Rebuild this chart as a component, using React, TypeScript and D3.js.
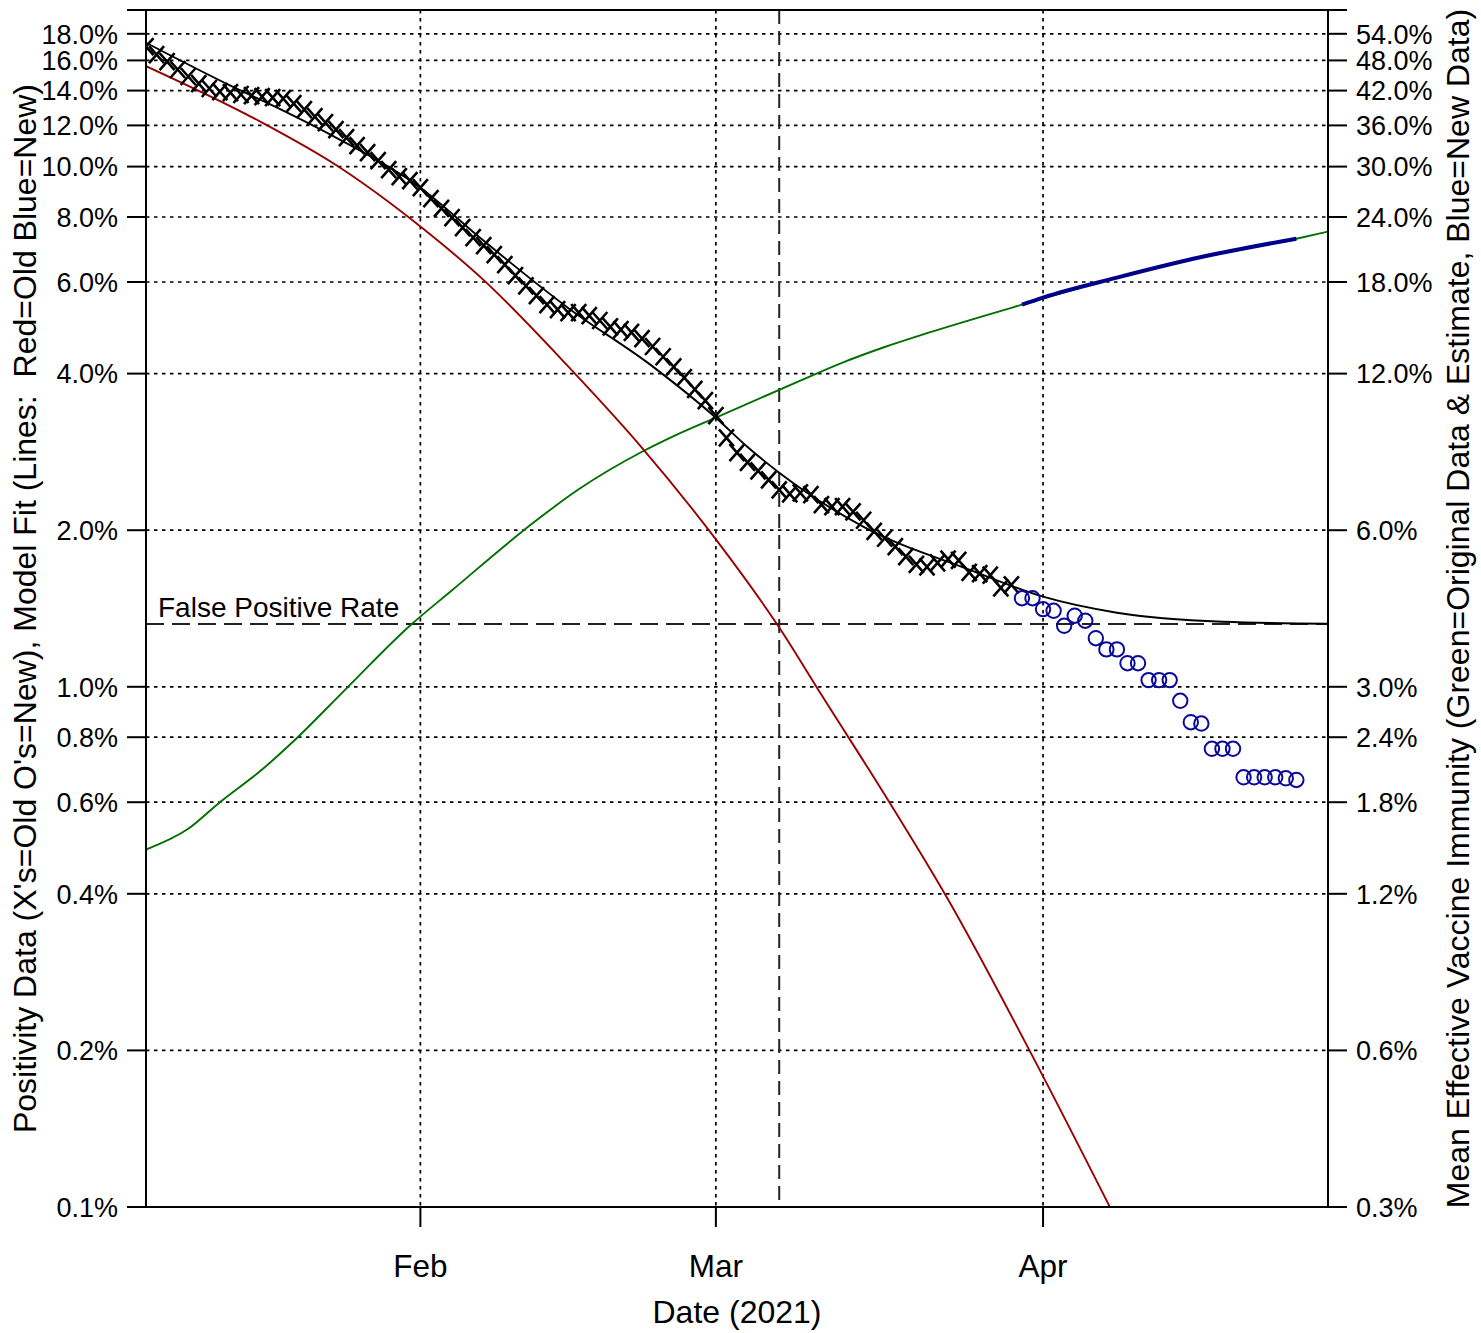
import React from 'react';
import * as d3 from 'd3';

const W = 1481;
const H = 1333;
const PLOT = { left: 146, right: 1328, top: 10, bottom: 1207 };

// ---- axes / ticks ----
const xDomain = ['2021-01-06', '2021-04-28'];
const monthTicks = ['2021-02-01', '2021-03-01', '2021-04-01'];
const monthLabels = ['Feb', 'Mar', 'Apr'];
const leftDomain = [0.1, 20];
const rightDomain = [0.3, 60];
const leftTicks = [0.1, 0.2, 0.4, 0.6, 0.8, 1, 2, 4, 6, 8, 10, 12, 14, 16, 18];
const rightTicks = [0.3, 0.6, 1.2, 1.8, 2.4, 3, 6, 12, 18, 24, 30, 36, 42, 48, 54];

// ---- positivity data (%) ----
const oldDataStart = '2021-01-06';
const oldPositivity = [
  17.01, 16.42, 15.92, 15.37, 14.9, 14.44, 14.13, 13.94, 13.88, 13.76, 13.69, 13.63, 13.57,
  13.51, 13.22, 12.87, 12.48, 12.15, 11.78, 11.37, 10.97, 10.64, 10.27, 9.87, 9.57, 9.4,
  9.11, 8.68, 8.31, 7.98, 7.63, 7.3, 7.05, 6.77, 6.48, 6.17, 5.9, 5.65, 5.43, 5.31, 5.24,
  5.24, 5.17, 5.06, 4.92, 4.86, 4.8, 4.67, 4.51, 4.31, 4.12, 3.93, 3.73, 3.55,
  3.32, 3.01, 2.82, 2.7, 2.6, 2.5, 2.39, 2.35, 2.36, 2.34, 2.24, 2.22, 2.22, 2.17, 2.09,
  1.99, 1.93, 1.86, 1.78, 1.72, 1.7, 1.73, 1.76, 1.75, 1.66, 1.65, 1.64, 1.55, 1.57,
];
const newDataStart = '2021-03-30';
const newPositivity = [
  1.48, 1.48, 1.41, 1.4, 1.31, 1.37, 1.34, 1.24, 1.18, 1.18, 1.11, 1.11, 1.03, 1.03, 1.03,
  0.94, 0.855, 0.85, 0.76, 0.76, 0.76, 0.67, 0.67, 0.67, 0.67, 0.667, 0.662,
];

// ---- model fits (%) ----
const newFitDates = [
  '2021-01-06', '2021-01-14', '2021-01-19', '2021-01-24', '2021-02-01', '2021-02-07',
  '2021-02-15', '2021-02-23', '2021-03-01', '2021-03-04', '2021-03-07', '2021-03-15',
  '2021-03-25', '2021-04-01', '2021-04-08', '2021-04-18', '2021-04-28',
];
const newFitValues = [
  17.3, 14.31, 12.81, 11.37, 9.11, 7.2, 5.35, 4.13, 3.29, 2.89, 2.58, 2.03, 1.68, 1.49,
  1.388, 1.334, 1.322,
];
const oldFitDates = [
  '2021-01-06', '2021-01-17', '2021-01-24', '2021-02-01', '2021-02-07', '2021-02-15',
  '2021-02-22', '2021-03-01', '2021-03-07', '2021-03-11', '2021-03-17', '2021-03-23',
  '2021-03-31', '2021-04-08',
];
const oldFitValues = [15.6, 12.15, 10.07, 7.67, 6.05, 4.13, 2.88, 1.92, 1.3, 0.965, 0.62, 0.39, 0.195, 0.094];

// ---- vaccine immunity (%; right axis) ----
const immunityDates = [
  '2021-01-06', '2021-01-10', '2021-01-13', '2021-01-17', '2021-01-20', '2021-01-25',
  '2021-01-31', '2021-02-04', '2021-02-12', '2021-02-16', '2021-02-22', '2021-02-25',
  '2021-03-01', '2021-03-09', '2021-03-13', '2021-03-17', '2021-03-21', '2021-03-30',
  '2021-04-08', '2021-04-16', '2021-04-25', '2021-04-28',
];
const immunityValues = [
  1.46, 1.6, 1.8, 2.08, 2.36, 2.98, 3.93, 4.6, 6.27, 7.19, 8.49, 9.1, 9.88, 11.63, 12.6,
  13.5, 14.35, 16.28, 18.35, 20.1, 21.8, 22.5,
];
const newImmunityDates = ['2021-03-30', '2021-04-01', '2021-04-08', '2021-04-16', '2021-04-25'];
const newImmunityValues = [16.28, 16.8, 18.35, 20.1, 21.8];

const falsePositiveRate = 1.32;
const markerDate = '2021-03-07';

const FONT = '"Liberation Sans", Arial, Helvetica, sans-serif';

export default function App() {
  const parse = d3.utcParse('%Y-%m-%d');
  const x = d3
    .scaleUtc()
    .domain(xDomain.map((s) => parse(s) as Date))
    .range([PLOT.left, PLOT.right]);
  const yL = d3.scaleLog().domain(leftDomain).range([PLOT.bottom, PLOT.top]);
  const yR = d3.scaleLog().domain(rightDomain).range([PLOT.bottom, PLOT.top]);

  const toPts = (ds: string[], vs: number[]) => ds.map((d, i) => [parse(d) as Date, vs[i]] as [Date, number]);
  const lineL = d3
    .line<[Date, number]>()
    .x((d) => x(d[0]))
    .y((d) => yL(d[1]))
    .curve(d3.curveMonotoneX);
  const lineR = d3
    .line<[Date, number]>()
    .x((d) => x(d[0]))
    .y((d) => yR(d[1]))
    .curve(d3.curveMonotoneX);

  const oldStart = parse(oldDataStart) as Date;
  const newStart = parse(newDataStart) as Date;
  const oldPts = oldPositivity.map((v, i) => [d3.utcDay.offset(oldStart, i), v] as [Date, number]);
  const newPts = newPositivity.map((v, i) => [d3.utcDay.offset(newStart, i), v] as [Date, number]);

  const fmt = (v: number) => v.toFixed(1) + '%';
  const fpY = yL(falsePositiveRate);
  const mx = x(parse(markerDate) as Date);

  return (
    <svg
      width={W}
      height={H}
      style={{ position: 'absolute', left: 0, top: 0, background: '#fff' }}
      fontFamily={FONT}
    >
      <defs>
        <clipPath id="plotclip">
          <rect x={PLOT.left} y={PLOT.top} width={PLOT.right - PLOT.left} height={PLOT.bottom - PLOT.top} />
        </clipPath>
      </defs>
      <rect x={0} y={0} width={W} height={H} fill="#fff" />

      {/* horizontal grid */}
      {leftTicks.slice(1).map((t) => (
        <line
          key={'hg' + t}
          x1={PLOT.left}
          x2={PLOT.right}
          y1={yL(t)}
          y2={yL(t)}
          stroke="#000"
          strokeWidth={1.7}
          strokeDasharray="3.5,4.5"
        />
      ))}
      {/* vertical grid */}
      {monthTicks.map((m) => (
        <line
          key={'vg' + m}
          x1={x(parse(m) as Date)}
          x2={x(parse(m) as Date)}
          y1={PLOT.top}
          y2={PLOT.bottom}
          stroke="#000"
          strokeWidth={1.7}
          strokeDasharray="3.5,4.5"
        />
      ))}
      {/* marker dashed vertical */}
      <line x1={mx} x2={mx} y1={PLOT.top} y2={PLOT.bottom} stroke="#222" strokeWidth={2} strokeDasharray="14,7" />
      {/* false positive line */}
      <line x1={PLOT.left} x2={PLOT.right} y1={fpY} y2={fpY} stroke="#222" strokeWidth={2} strokeDasharray="18,8" />
      <text x={158} y={fpY - 7} fontSize={28} fill="#000">
        False Positive Rate
      </text>

      <g clipPath="url(#plotclip)">
        <path d={lineR(toPts(immunityDates, immunityValues)) || ''} fill="none" stroke="#007000" strokeWidth={1.9} />
        <path d={lineR(toPts(newImmunityDates, newImmunityValues)) || ''} fill="none" stroke="#00008b" strokeWidth={4} />
        <path d={lineL(toPts(oldFitDates, oldFitValues)) || ''} fill="none" stroke="#990000" strokeWidth={1.9} />
        <path d={lineL(toPts(newFitDates, newFitValues)) || ''} fill="none" stroke="#000" strokeWidth={1.9} />
        {oldPts.map((d, i) => (
          <path
            key={'x' + i}
            transform={`translate(${x(d[0])},${yL(d[1])})`}
            d="M-7.5,-8.5L7.5,8.5M-7.5,8.5L7.5,-8.5"
            stroke="#000"
            strokeWidth={2.6}
            fill="none"
          />
        ))}
        {newPts.map((d, i) => (
          <circle key={'o' + i} cx={x(d[0])} cy={yL(d[1])} r={7.2} fill="none" stroke="#0a0a9a" strokeWidth={2} />
        ))}
      </g>

      {/* frame */}
      <line x1={PLOT.left - 19} x2={PLOT.right + 19} y1={PLOT.top} y2={PLOT.top} stroke="#000" strokeWidth={2} />
      <line x1={PLOT.left - 19} x2={PLOT.right + 19} y1={PLOT.bottom} y2={PLOT.bottom} stroke="#000" strokeWidth={2} />
      <line x1={PLOT.left} x2={PLOT.left} y1={PLOT.top} y2={PLOT.bottom} stroke="#000" strokeWidth={2} />
      <line x1={PLOT.right} x2={PLOT.right} y1={PLOT.top} y2={PLOT.bottom} stroke="#000" strokeWidth={2} />

      {/* left axis */}
      {leftTicks.map((t) => (
        <g key={'lt' + t}>
          <line x1={PLOT.left - 19} x2={PLOT.left} y1={yL(t)} y2={yL(t)} stroke="#000" strokeWidth={2} />
          <text x={PLOT.left - 28} y={yL(t)} dy="0.36em" textAnchor="end" fontSize={27} fill="#000">
            {fmt(t)}
          </text>
        </g>
      ))}
      {/* right axis */}
      {rightTicks.map((t) => (
        <g key={'rt' + t}>
          <line x1={PLOT.right} x2={PLOT.right + 19} y1={yR(t)} y2={yR(t)} stroke="#000" strokeWidth={2} />
          <text x={PLOT.right + 28} y={yR(t)} dy="0.36em" textAnchor="start" fontSize={27} fill="#000">
            {fmt(t)}
          </text>
        </g>
      ))}
      {/* bottom axis */}
      {monthTicks.map((m, i) => (
        <g key={'bt' + m}>
          <line
            x1={x(parse(m) as Date)}
            x2={x(parse(m) as Date)}
            y1={PLOT.bottom}
            y2={PLOT.bottom + 20}
            stroke="#000"
            strokeWidth={2}
          />
          <text x={x(parse(m) as Date)} y={1277} textAnchor="middle" fontSize={31.5} fill="#000">
            {monthLabels[i]}
          </text>
        </g>
      ))}

      {/* titles */}
      <text x={(PLOT.left + PLOT.right) / 2} y={1323} textAnchor="middle" fontSize={32} fill="#000">
        Date (2021)
      </text>
      <text
        transform={`translate(36,${(PLOT.top + PLOT.bottom) / 2}) rotate(-90)`}
        textAnchor="middle"
        fontSize={32}
        fill="#000"
        style={{ whiteSpace: 'pre' }}
      >
        {"Positivity Data (X's=Old O's=New), Model Fit (Lines:  Red=Old Blue=New)"}
      </text>
      <text
        transform={`translate(1469,${(PLOT.top + PLOT.bottom) / 2}) rotate(-90)`}
        textAnchor="middle"
        fontSize={32}
        fill="#000"
      >
        Mean Effective Vaccine Immunity (Green=Original Data &amp; Estimate, Blue=New Data)
      </text>
    </svg>
  );
}
